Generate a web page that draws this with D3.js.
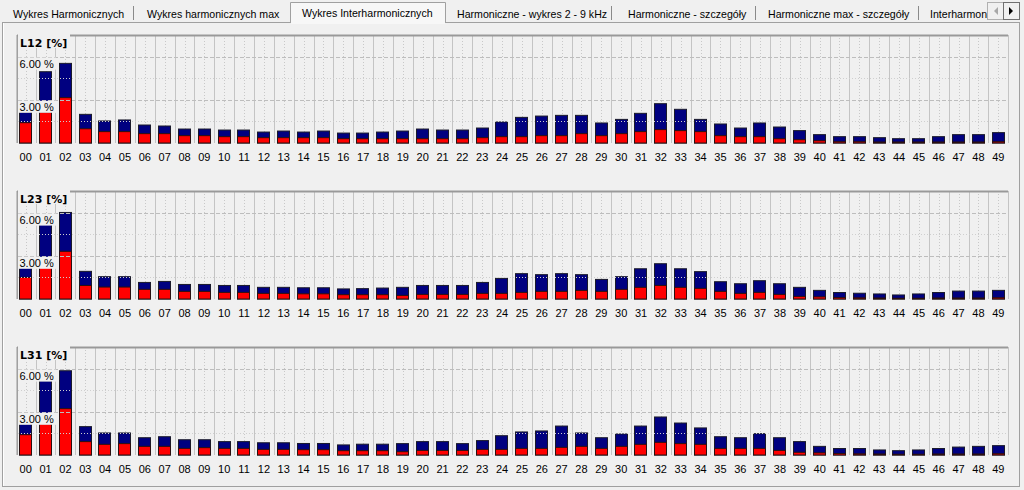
<!DOCTYPE html>
<html><head><meta charset="utf-8">
<script src="https://cdn.jsdelivr.net/npm/d3@7/dist/d3.min.js"></script>
<style>
html,body{margin:0;padding:0;background:#f0f0f0;}
svg{display:block;}
</style></head>
<body>
<svg id="c" width="1024" height="490"></svg>
<script>
const categories = ["00","01","02","03","04","05","06","07","08","09","10","11","12","13","14","15","16","17","18","19","20","21","22","23","24","25","26","27","28","29","30","31","32","33","34","35","36","37","38","39","40","41","42","43","44","45","46","47","48","49"];
const yTickLabels = [{v:6, t:"6.00 %"},{v:3, t:"3.00 %"}];
const majorGrid = [3, 6];
const minorGrid = [1.5, 4.5];
const tabs = ["Wykres Harmonicznych","Wykres harmonicznych max","Wykres Interharmonicznych","Harmoniczne - wykres 2 - 9 kHz","Harmoniczne - szczegóły","Harmoniczne max - szczegóły","Interharmon"];
const panelTitles = ["L12 [%]","L23 [%]","L31 [%]"];

const l12Max = [2.15,4.95,5.53,1.99,1.53,1.60,1.25,1.18,0.97,0.97,0.90,0.90,0.76,0.83,0.76,0.83,0.69,0.69,0.76,0.83,0.97,0.90,0.90,1.04,1.46,1.78,1.87,1.92,1.92,1.39,1.64,2.06,2.73,2.34,1.64,1.32,1.04,1.39,1.11,0.86,0.58,0.44,0.44,0.37,0.30,0.30,0.44,0.58,0.58,0.72];
const l12Val = [1.41,2.15,3.15,0.99,0.79,0.79,0.65,0.65,0.51,0.51,0.44,0.44,0.37,0.37,0.37,0.37,0.30,0.30,0.30,0.30,0.30,0.30,0.30,0.37,0.44,0.44,0.51,0.51,0.65,0.51,0.65,0.79,0.93,0.86,0.79,0.51,0.44,0.44,0.30,0.23,0.16,0.09,0.09,0.07,0.07,0.07,0.07,0.07,0.07,0.09];
const l23Max = [2.19,5.21,6.01,1.92,1.55,1.55,1.15,1.22,1.01,1.01,0.94,0.94,0.81,0.81,0.78,0.78,0.70,0.72,0.76,0.81,0.94,0.94,0.94,1.15,1.43,1.76,1.69,1.76,1.69,1.36,1.55,2.10,2.45,2.10,1.90,1.20,1.06,1.27,1.06,0.81,0.60,0.45,0.40,0.35,0.28,0.35,0.45,0.55,0.55,0.60];
const l23Val = [1.50,2.19,3.31,0.94,0.83,0.83,0.67,0.67,0.53,0.53,0.46,0.46,0.39,0.39,0.36,0.36,0.30,0.30,0.30,0.25,0.32,0.32,0.32,0.39,0.39,0.46,0.53,0.53,0.60,0.53,0.67,0.81,0.94,0.81,0.74,0.53,0.39,0.46,0.32,0.18,0.15,0.10,0.08,0.07,0.05,0.05,0.07,0.07,0.07,0.09];
const l31Max = [2.17,5.16,5.85,1.97,1.53,1.53,1.20,1.27,1.06,1.06,0.93,0.93,0.85,0.85,0.80,0.80,0.70,0.75,0.75,0.79,0.93,0.93,0.79,1.00,1.34,1.60,1.67,2.01,1.53,1.20,1.46,2.01,2.64,2.22,1.88,1.27,1.20,1.48,1.20,0.93,0.60,0.45,0.45,0.35,0.30,0.35,0.45,0.55,0.60,0.65];
const l31Val = [1.41,2.17,3.22,0.93,0.74,0.79,0.60,0.60,0.46,0.51,0.46,0.46,0.39,0.39,0.37,0.37,0.30,0.30,0.30,0.23,0.32,0.32,0.32,0.39,0.39,0.46,0.46,0.53,0.60,0.46,0.60,0.74,0.88,0.79,0.74,0.46,0.46,0.46,0.32,0.19,0.15,0.10,0.08,0.07,0.05,0.05,0.07,0.07,0.07,0.09];

const panels = [
  {title: panelTitles[0], max: l12Max, val: l12Val},
  {title: panelTitles[1], max: l23Max, val: l23Val},
  {title: panelTitles[2], max: l31Max, val: l31Val}
];

const svg = d3.select("#c");
const BG = "#f0f0f0";
const FONT = "'Liberation Sans', Arial, sans-serif";

// ---- window / tab strip ----
svg.append("rect").attr("x",0).attr("y",0).attr("width",1024).attr("height",490).attr("fill",BG);
// tab page border
svg.append("rect").attr("x",2.5).attr("y",22.5).attr("width",1017).attr("height",464)
  .attr("fill","none").attr("stroke","#a0a0a0");
svg.append("line").attr("x1",3.5).attr("x2",3.5).attr("y1",23).attr("y2",486).attr("stroke","#ffffff");

const tabX = [13, 147, 302, 457, 628, 768, 930];
const sepX = [133.5, 611.5, 755.5, 918.5];
// active tab
svg.append("path").attr("d","M290.5,23 L290.5,2.5 L445.5,2.5 L445.5,23")
  .attr("fill","#f7f7f7").attr("stroke","#a0a0a0");
svg.append("rect").attr("x",291).attr("y",21).attr("width",154).attr("height",3).attr("fill","#f7f7f7");
sepX.forEach(x => svg.append("line").attr("x1",x).attr("x2",x).attr("y1",6).attr("y2",20).attr("stroke","#8a8a8a"));
svg.append("clipPath").attr("id","tabclip").append("rect").attr("x",0).attr("y",0).attr("width",987).attr("height",22);
svg.append("g").attr("clip-path","url(#tabclip)").selectAll("text.tab").data(tabs).join("text")
  .attr("x",(d,i)=>tabX[i]).attr("y",(d,i)=> i===2 ? 17 : 18)
  .attr("font-family",FONT).attr("font-size","10.6px").attr("fill","#000").text(d=>d);
// scroll buttons
svg.append("rect").attr("x",987.5).attr("y",2.5).attr("width",16).attr("height",17).attr("fill","#f0f0f0").attr("stroke","#b0b0b0");
svg.append("rect").attr("x",1003.5).attr("y",2.5).attr("width",16).attr("height",17).attr("fill","#f0f0f0").attr("stroke","#707070");
svg.append("path").attr("d","M998,7 L994,11 L998,15 Z").attr("fill","#a8a8a8");
svg.append("path").attr("d","M1009,7 L1013,11 L1009,15 Z").attr("fill","#000");

// ---- charts ----
const tops = [35, 191, 347];
const plotH = 108;
const x = d3.scaleBand().domain(categories).range([15.8, 1008.2]).paddingInner(0.33).paddingOuter(0.165);
const step = x.step(), bw = x.bandwidth();

panels.forEach((p, pi) => {
  const top = tops[pi], bottom = top + plotH;
  const y = d3.scaleLinear().domain([0, 7.5]).range([bottom, top]);
  const g = svg.append("g");

  // vertical grid: solid boundaries, dotted centers
  const bounds = categories.map(c => x(c) + bw/2 - step/2).concat([x(categories[49]) + bw/2 + step/2]);
  g.selectAll("line.vb").data(bounds).join("line")
    .attr("x1",d=>Math.round(d)+0.5).attr("x2",d=>Math.round(d)+0.5)
    .attr("y1",top).attr("y2",bottom).attr("stroke","#c4c4c4");
  g.selectAll("line.vc").data(categories).join("line")
    .attr("x1",d=>Math.round(x(d)+bw/2)+0.5).attr("x2",d=>Math.round(x(d)+bw/2)+0.5)
    .attr("y1",top).attr("y2",bottom).attr("stroke","#c8c8c8").attr("stroke-dasharray","1,2");

  // frame
  g.append("line").attr("x1",17.5).attr("x2",17.5).attr("y1",top).attr("y2",bottom).attr("stroke","#a0a0a0");
  g.append("line").attr("x1",17).attr("x2",1008).attr("y1",top+0.5).attr("y2",top+0.5)
    .attr("stroke","#999").attr("stroke-width",2);

  // bars (max = navy, value = red)
  g.selectAll("rect.mx").data(categories).join("rect")
    .attr("x",d=>Math.round(x(d))+0.5).attr("width",Math.round(bw)-1)
    .attr("y",(d,i)=>y(p.max[i])).attr("height",(d,i)=>bottom - y(p.max[i]))
    .attr("fill","#000080").attr("stroke","#1a1a2a").attr("stroke-width",1);
  g.selectAll("rect.vl").data(categories).join("rect")
    .attr("x",d=>Math.round(x(d))+0.5).attr("width",Math.round(bw)-1)
    .attr("y",(d,i)=>y(p.val[i])).attr("height",(d,i)=>bottom - y(p.val[i]))
    .attr("fill","#ff0000").attr("stroke","#2a1010").attr("stroke-width",1);

  // horizontal grid (drawn over bars)
  g.selectAll("line.hmaj").data(majorGrid).join("line")
    .attr("x1",18).attr("x2",1008).attr("y1",d=>Math.round(y(d))+0.5).attr("y2",d=>Math.round(y(d))+0.5)
    .attr("stroke","#bdbdbd").attr("stroke-dasharray","4,2");
  g.selectAll("line.hmin").data(minorGrid).join("line")
    .attr("x1",18).attr("x2",1008).attr("y1",d=>Math.round(y(d))+0.5).attr("y2",d=>Math.round(y(d))+0.5)
    .attr("stroke","#cfcfcf").attr("stroke-dasharray","1,2");

  // y labels with background
  yTickLabels.forEach(t => {
    g.append("rect").attr("x",18).attr("y",y(t.v)+1).attr("width",38).attr("height",12).attr("fill",BG);
    g.append("text").attr("x",19.5).attr("y",y(t.v)+11).attr("font-family",FONT).attr("font-size","11px")
      .attr("fill","#000").text(t.t);
  });

  // title
  g.append("rect").attr("x",18).attr("y",top-1).attr("width",52).attr("height",14).attr("fill",BG);
  g.append("text").attr("x",20).attr("y",top+11.5).attr("font-family","'DejaVu Sans', sans-serif")
    .attr("font-weight","bold").attr("font-size","11px").attr("fill","#000").text(p.title);

  // x axis labels
  const ax = d3.axisBottom(x).tickSize(0).tickPadding(0);
  const axg = g.append("g").attr("transform",`translate(0,${bottom})`).call(ax);
  axg.select(".domain").remove();
  axg.selectAll("text").attr("dy",null).attr("y",18).attr("font-family",FONT).attr("font-size","11px").attr("fill","#000");
});
</script>
</body></html>
